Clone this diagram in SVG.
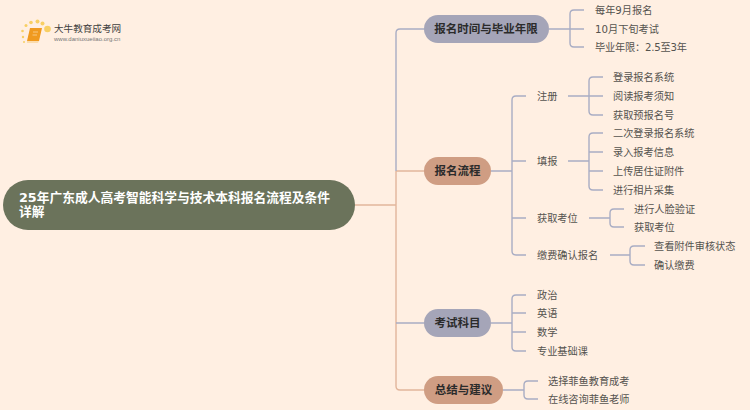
<svg xmlns="http://www.w3.org/2000/svg" width="750" height="410" viewBox="0 0 750 410">
<style>
text{font-family:"DejaVu Sans","Noto Sans CJK SC",sans-serif}
.l{font-size:10.2px;fill:#55534f;dominant-baseline:central}
.m{font-size:11.5px;font-weight:700;fill:#2b2b2b;text-anchor:middle;dominant-baseline:central}
.c{fill:none;stroke-width:1.4}
.b{stroke:#a9adc4}.o{stroke:#e2b69c}
.g{fill:#a5a5b8}.t{fill:#cf9d83}
</style>
<rect width="750" height="410" fill="#ffefe2"/>
<g id="connectors">
<path class="c o" d="M355 205H396M396 205V171M396 171H424M396 205V386Q396 390 400 390H424"/>
<path class="c b" d="M396 171V33Q396 29 400 29H424M396 323H424"/>
<path class="c b" d="M549 29H584M570 29V14Q570 10 574 10H584M570 29V43Q570 47 574 47H584"/>
<path class="c b" d="M491 171H512M512 171V100Q512 96 516 96H526M512 161H526M512 171V218H526M512 218V251Q512 255 516 255H526"/>
<path class="c b" d="M568 96H603M589 96V81Q589 77 593 77H603M589 96V111Q589 115 593 115H603"/>
<path class="c b" d="M568 161H589M589 161V137Q589 133 593 133H603M589 152H603M589 171H603M589 161V186Q589 190 593 190H603"/>
<path class="c b" d="M589 218H610M610 218V213Q610 209 614 209H624M610 218V223Q610 227 614 227H624"/>
<path class="c b" d="M610 255H630M630 255V250Q630 246 634 246H645M630 255V261Q630 265 634 265H645"/>
<path class="c b" d="M491 323H512M512 323V299Q512 295 516 295H526M512 313H526M512 332H526M512 323V347Q512 351 516 351H526"/>
<path class="c b" d="M503 390H524M524 390V385Q524 381 528 381H538M524 390V395Q524 399 528 399H538"/>
</g>
<g id="logo">
<g fill="#f8cf63"><circle cx="47.500" cy="29" r="3.300"/><circle cx="42.500" cy="23.500" r="2"/><circle cx="37.500" cy="21.500" r="2"/><circle cx="31" cy="22.500" r="1.800"/><circle cx="26" cy="25.500" r="1.500"/><circle cx="22.500" cy="31" r="1.300"/><circle cx="23" cy="37" r="1.200"/><circle cx="24" cy="42" r="1"/></g>
<path d="M30 28H42L39 41H27Z" fill="#f09a1f"/><path d="M27 41H39L38 43H27Z" fill="#fbdcae"/><path d="M33 32H38M32.500 35H37" stroke="#fbdcae" stroke-width=".7"/>
<text x="54" y="32" font-size="9.600" fill="#3f3f3f">大牛教育成考网</text>
<text x="54" y="41" font-size="6" fill="#777" style="font-family:'Liberation Sans',sans-serif">www.daniuxueiiao.org.cn</text>
</g>
<g id="root"><rect x="3" y="180" width="352" height="50" rx="25" fill="#6b735b"/>
<text x="19" y="197" font-size="12.750" font-weight="700" fill="#fff" dominant-baseline="central">25年广东成人高考智能科学与技术本科报名流程及条件</text>
<text x="19" y="211" font-size="12.750" font-weight="700" fill="#fff" dominant-baseline="central">详解</text></g>
<g id="n1"><rect class="g" x="424" y="15" width="125" height="28" rx="14"/><text class="m" x="486" y="29">报名时间与毕业年限</text></g>
<g id="n2"><rect class="t" x="424" y="157" width="67" height="28" rx="14"/><text class="m" x="457.500" y="171">报名流程</text></g>
<g id="n3"><rect class="g" x="424" y="309" width="67" height="28" rx="14"/><text class="m" x="457.500" y="323">考试科目</text></g>
<g id="n4"><rect class="t" x="424" y="376" width="79" height="28" rx="14"/><text class="m" x="463.500" y="390">总结与建议</text></g>
<g id="leaf-1">
<text class="l" x="595" y="10">每年9月报名</text><text class="l" x="595" y="29">10月下旬考试</text><text class="l" x="595" y="47" textLength="92">毕业年限：2.5至3年</text></g>
<g id="leaf-2">
<text class="l" x="537" y="96">注册</text><text class="l" x="537" y="161">填报</text><text class="l" x="537" y="218">获取考位</text><text class="l" x="537" y="255">缴费确认报名</text>
<text class="l" x="613" y="77">登录报名系统</text><text class="l" x="613" y="96">阅读报考须知</text><text class="l" x="613" y="115">获取预报名号</text>
<text class="l" x="613" y="133">二次登录报名系统</text><text class="l" x="613" y="152">录入报考信息</text><text class="l" x="613" y="171">上传居住证附件</text><text class="l" x="613" y="190">进行相片采集</text>
<text class="l" x="634" y="209">进行人脸验证</text><text class="l" x="634" y="227">获取考位</text>
<text class="l" x="654" y="246">查看附件审核状态</text><text class="l" x="654" y="265">确认缴费</text></g>
<g id="leaf-3"><text class="l" x="537" y="295">政治</text><text class="l" x="537" y="313">英语</text><text class="l" x="537" y="332">数学</text><text class="l" x="537" y="351">专业基础课</text></g>
<g id="leaf-4"><text class="l" x="548" y="381">选择菲鱼教育成考</text><text class="l" x="548" y="399">在线咨询菲鱼老师</text></g>
</svg>
